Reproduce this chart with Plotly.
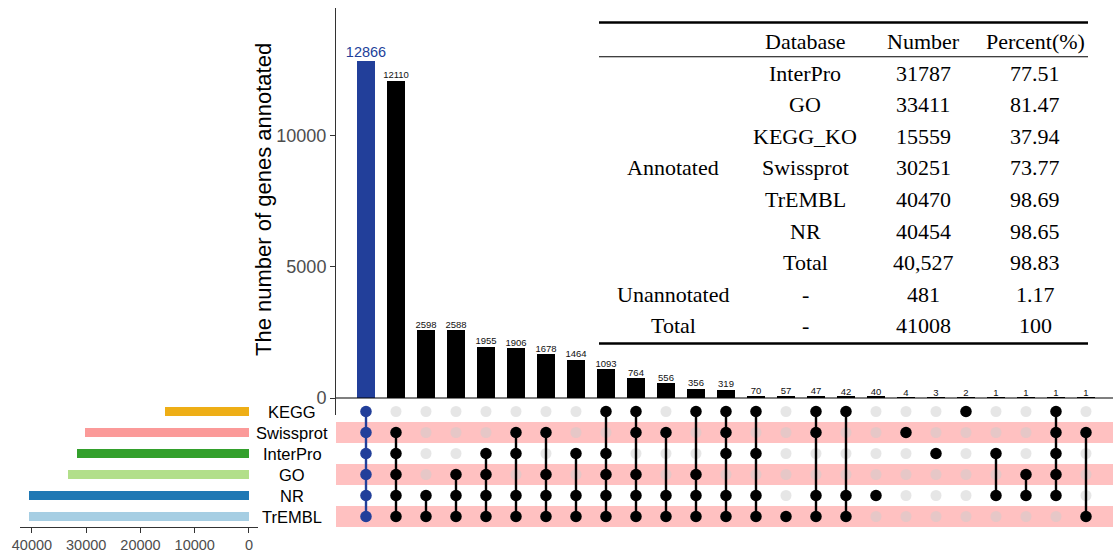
import plotly.graph_objects as go

W, H = 1113, 554

# ---- data -----------------------------------------------------------------
sets = ["KEGG", "Swissprot", "InterPro", "GO", "NR", "TrEMBL"]
set_sizes = [15559, 30251, 31787, 33411, 40454, 40470]
set_colors = ["#EEAE16", "#FB9A99", "#33A02C", "#B2DF8A", "#1F78B4", "#A6CEE3"]

intersection_sizes = [12866, 12110, 2598, 2588, 1955, 1906, 1678, 1464, 1093,
                      764, 556, 356, 319, 70, 57, 47, 42, 40, 4, 3, 2, 1, 1, 1, 1]
intersection_members = [
    ["KEGG", "Swissprot", "InterPro", "GO", "NR", "TrEMBL"],
    ["Swissprot", "InterPro", "GO", "NR", "TrEMBL"],
    ["NR", "TrEMBL"],
    ["GO", "NR", "TrEMBL"],
    ["InterPro", "GO", "NR", "TrEMBL"],
    ["Swissprot", "InterPro", "NR", "TrEMBL"],
    ["Swissprot", "GO", "NR", "TrEMBL"],
    ["InterPro", "NR", "TrEMBL"],
    ["KEGG", "InterPro", "GO", "NR", "TrEMBL"],
    ["KEGG", "Swissprot", "GO", "NR", "TrEMBL"],
    ["Swissprot", "NR", "TrEMBL"],
    ["KEGG", "GO", "NR", "TrEMBL"],
    ["KEGG", "Swissprot", "InterPro", "NR", "TrEMBL"],
    ["KEGG", "InterPro", "NR", "TrEMBL"],
    ["TrEMBL"],
    ["KEGG", "Swissprot", "NR", "TrEMBL"],
    ["KEGG", "NR", "TrEMBL"],
    ["NR"],
    ["Swissprot"],
    ["InterPro"],
    ["KEGG"],
    ["InterPro", "NR"],
    ["GO", "NR"],
    ["KEGG", "Swissprot", "InterPro", "GO", "NR"],
    ["Swissprot", "TrEMBL"],
]
highlight_index = 0  # intersection shared by all databases

table_header = ["", "Database", "Number", "Percent(%)"]
table_databases = ["InterPro", "GO", "KEGG_KO", "Swissprot", "TrEMBL", "NR", "Total",
                   "-", "-"]
table_numbers = ["31787", "33411", "15559", "30251", "40470", "40454", "40,527",
                 "481", "41008"]
table_percents = ["77.51", "81.47", "37.94", "73.77", "98.69", "98.65", "98.83",
                  "1.17", "100"]
table_groups = [("Annotated", 0, 6), ("Unannotated", 7, 7), ("Total", 8, 8)]

# ---- styling --------------------------------------------------------------
BLUE = "#223F9A"
STRIPE = "#FFC1C1"
SANS = "Arial, Liberation Sans, sans-serif"
SERIF = "Times New Roman, Liberation Serif, serif"


def px_x(p):
    return p / W


def px_y(p):
    return 1 - p / H


n_cols = len(intersection_sizes)
cols = list(range(n_cols))
row_of = {s: i for i, s in enumerate(sets)}
rest = [i for i in cols if i != highlight_index]

fig = go.Figure()

# intersection size bars
bar_colors = [BLUE if i == highlight_index else "black" for i in cols]
fig.add_trace(go.Bar(
    x=cols, y=intersection_sizes, xaxis="x", yaxis="y",
    marker=dict(color=bar_colors, line=dict(width=0)), width=0.58,
    showlegend=False, hoverinfo="x+y",
))

# value labels above the bars
fig.add_trace(go.Scatter(
    x=rest, y=[intersection_sizes[i] for i in rest], xaxis="x", yaxis="y",
    mode="text", text=[str(intersection_sizes[i]) for i in rest],
    textposition="top center",
    textfont=dict(size=9.5, color="#111111", family=SANS),
    cliponaxis=False, showlegend=False, hoverinfo="skip",
))
fig.add_trace(go.Scatter(
    x=[highlight_index], y=[intersection_sizes[highlight_index]], xaxis="x", yaxis="y",
    mode="text", text=[str(intersection_sizes[highlight_index])],
    textposition="top center",
    textfont=dict(size=14.5, color=BLUE, family=SANS),
    cliponaxis=False, showlegend=False, hoverinfo="skip",
))

# matrix: background dots
gx, gy = [], []
for c in cols:
    for r in range(len(sets)):
        gx.append(c)
        gy.append(r)
fig.add_trace(go.Scatter(
    x=gx, y=gy, xaxis="x2", yaxis="y2", mode="markers",
    marker=dict(size=11, color="rgba(205,205,205,0.5)"),
    showlegend=False, hoverinfo="skip",
))

# matrix: connecting lines and member dots
for c, members in enumerate(intersection_members):
    rows = sorted(row_of[m] for m in members)
    col = BLUE if c == highlight_index else "black"
    if len(rows) > 1:
        fig.add_trace(go.Scatter(
            x=[c, c], y=[rows[0], rows[-1]], xaxis="x2", yaxis="y2", mode="lines",
            line=dict(color=col, width=2.4), showlegend=False, hoverinfo="skip",
        ))
    fig.add_trace(go.Scatter(
        x=[c] * len(rows), y=rows, xaxis="x2", yaxis="y2", mode="markers",
        marker=dict(size=11.5, color=col), showlegend=False, hoverinfo="skip",
    ))

# set size bars
fig.add_trace(go.Bar(
    x=set_sizes, y=list(range(len(sets))), orientation="h", xaxis="x3", yaxis="y3",
    marker=dict(color=set_colors, line=dict(width=0)), width=0.45,
    showlegend=False, hoverinfo="x",
))

shapes = []
annotations = []

# alternating stripes behind the matrix rows
for r in range(len(sets)):
    if r % 2 == 1:
        shapes.append(dict(type="rect", xref="x2 domain", yref="y2",
                           x0=0, x1=1, y0=r - 0.5, y1=r + 0.5,
                           fillcolor=STRIPE, line=dict(width=0), layer="below"))

# baseline of the bar chart
shapes.append(dict(type="line", xref="x domain", yref="y", x0=0, x1=1, y0=0, y1=0,
                   line=dict(color="black", width=1.2)))

# set labels
for r, s in enumerate(sets):
    annotations.append(dict(text=s, xref="paper", yref="y2", x=px_x(292), y=r,
                            showarrow=False, xanchor="center", yanchor="middle",
                            font=dict(family=SANS, size=16.5, color="black")))

# y axis title
annotations.append(dict(text="The number of genes annotated", xref="paper", yref="paper",
                        x=px_x(263), y=px_y(200), textangle=-90, showarrow=False,
                        xanchor="center", yanchor="middle",
                        font=dict(family=SANS, size=22, color="black")))

# summary table
col_x = [673, 805, 923, 1035]
row_y0, row_dy = 41.5, 31.6
for j, h in enumerate(table_header):
    if h:
        annotations.append(dict(text=h, xref="paper", yref="paper",
                                x=px_x(col_x[j]), y=px_y(row_y0), showarrow=False,
                                xanchor="center", yanchor="middle",
                                font=dict(family=SERIF, size=22, color="black")))
for k in range(len(table_databases)):
    yk = row_y0 + row_dy * (k + 1)
    for j, val in ((1, table_databases[k]), (2, table_numbers[k]), (3, table_percents[k])):
        annotations.append(dict(text=val, xref="paper", yref="paper",
                                x=px_x(col_x[j]), y=px_y(yk), showarrow=False,
                                xanchor="center", yanchor="middle",
                                font=dict(family=SERIF, size=22, color="black")))
for name, k0, k1 in table_groups:
    yk = row_y0 + row_dy * ((k0 + k1) / 2 + 1)
    annotations.append(dict(text=name, xref="paper", yref="paper",
                            x=px_x(col_x[0]), y=px_y(yk), showarrow=False,
                            xanchor="center", yanchor="middle",
                            font=dict(family=SERIF, size=22, color="black")))

for y_px, w in ((22.5, 2.6), (56.7, 1.1), (343.5, 2.6)):
    shapes.append(dict(type="line", xref="paper", yref="paper",
                       x0=px_x(599), x1=px_x(1088), y0=px_y(y_px), y1=px_y(y_px),
                       line=dict(color="black", width=w)))

matrix_domain = [px_y(527), px_y(401)]
hidden = dict(showticklabels=False, showgrid=False, zeroline=False, showline=False,
              ticks="", automargin=False)

fig.update_layout(
    width=W, height=H, autosize=False,
    margin=dict(l=0, r=0, t=0, b=0, autoexpand=False),
    paper_bgcolor="white", plot_bgcolor="rgba(0,0,0,0)",
    bargap=0,
    xaxis=dict(domain=[px_x(336), 1], range=[-1, 24.9], **hidden),
    yaxis=dict(domain=[px_y(415), px_y(8)], range=[-649, 14885],
               tickvals=[0, 5000, 10000], tickformat="d", ticks="outside", ticklen=5,
               tickcolor="#333333", showline=True, linecolor="#333333", linewidth=1,
               showgrid=False, zeroline=False, automargin=False,
               tickfont=dict(family=SANS, size=18, color="#4D4D4D")),
    xaxis2=dict(domain=[px_x(336), 1], range=[-1, 24.9], anchor="y2", **hidden),
    yaxis2=dict(domain=matrix_domain, range=[5.5, -0.5], anchor="x2", **hidden),
    xaxis3=dict(domain=[px_x(20), px_x(258)], range=[42200, -1660], anchor="y3",
                tickvals=[0, 10000, 20000, 30000, 40000], tickformat="d",
                ticks="outside", ticklen=5, automargin=False,
                tickcolor="#333333", showline=True, linecolor="#333333", linewidth=1,
                showgrid=False, zeroline=False,
                tickfont=dict(family=SANS, size=14.5, color="#4D4D4D")),
    yaxis3=dict(domain=matrix_domain, range=[5.5, -0.5], anchor="x3", **hidden),
    shapes=shapes,
    annotations=annotations,
)

fig.write_html("out.html")
